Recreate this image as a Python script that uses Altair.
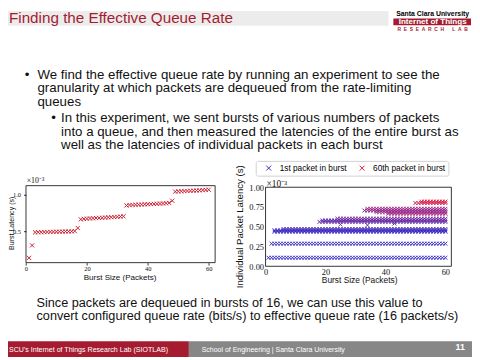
import altair as alt
import pandas as pd

# ---------------- values ----------------
# Left panel: latency of the whole burst (units of 1e-3 s) for burst sizes 1..60
burst_size = list(range(1, 61))
burst_latency = [
    0.140, 0.310,
    0.488, 0.490, 0.490, 0.492, 0.493, 0.494, 0.495, 0.496, 0.497, 0.498, 0.500, 0.500, 0.502, 0.505,
    0.548,
    0.665, 0.672, 0.675, 0.678, 0.680, 0.683, 0.685, 0.687, 0.690, 0.692, 0.695, 0.697, 0.700, 0.703, 0.707,
    0.855, 0.860, 0.862, 0.864, 0.866, 0.868, 0.870, 0.872, 0.874, 0.876, 0.878, 0.880, 0.882, 0.885, 0.889,
    0.920,
    1.044, 1.047, 1.049, 1.051, 1.053, 1.055, 1.057, 1.059, 1.061, 1.064, 1.067, 1.070,
]

# Right panel: individual packet latency (units of 1e-3 s), read as the horizontal
# bands of markers in the picture (first burst size where each band appears)
band_label = [
    "1st packet in burst", "2nd packet",
    "packets 3-17 low", "packets 3-17 mid", "packets 3-17 high",
    "packets 18-33 low", "packets 18-33 mid", "packets 18-33 high",
    "packets 34-49 low", "packets 34-49 mid", "packets 34-49 high", "packets 34-49 top",
    "packets 50-59", "60th packet in burst",
]
band_latency = [0.108, 0.286, 0.438, 0.455, 0.472, 0.562, 0.580, 0.602, 0.665, 0.685, 0.705, 0.728, 0.800, 0.818]
band_first_burst = [1, 2, 3, 3, 6, 18, 19, 24, 41, 37, 33, 34, 50, 52]
band_color = ["#3a2fc2", "#3d30c0", "#3527c8", "#3f2cc0", "#4a2db8", "#6a2aa2", "#5c30b0", "#7a2a98",
              "#b0227a", "#98288a", "#8a2c92", "#a3247f", "#cc1f55", "#dc2040"]
outlier_burst = [25, 34, 43]
outlier_latency = [0.530, 0.520, 0.540]
outlier_color = "#5a3aa0"

# ---------------- slide text ----------------
title_text = "Finding the Effective Queue Rate"
bullet_lines = [
    "We find the effective queue rate by running an experiment to see the",
    "granularity at which packets are dequeued from the rate-limiting",
    "queues",
]
sub_lines = [
    "In this experiment, we sent bursts of various numbers of packets",
    "into a queue, and then measured the latencies of the entire burst as",
    "well as the latencies of individual packets in each burst",
]
closing_lines = [
    "Since packets are dequeued in bursts of 16, we can use this value to",
    "convert configured queue rate (bits/s) to effective queue rate (16 packets/s)",
]
footer_left = "SCU's Internet of Things Research Lab (SIOTLAB)"
footer_mid = "School of Engineering | Santa Clara University"
page_no = "11"
NB = "\u00a0"
logo_lines = ["Santa Clara University", "Internet of Things",
              (NB * 2).join("RESEARCH") + NB * 6 + (NB * 2).join("LAB")]

SCU_RED = "#a51c30"
XPATH = "M-1,-1L1,1M-1,1L1,-1"
dummy = pd.DataFrame({"k": [0]})


def txt(s, x, y, size=13.5, color="#111111", font="Liberation Sans", align="left",
        baseline="alphabetic", angle=0, weight="normal"):
    return alt.Chart(dummy).mark_text(
        text=s, align=align, baseline=baseline, font=font, fontSize=size,
        color=color, angle=angle, fontWeight=weight
    ).encode(x=alt.value(x), y=alt.value(y))


def box(x, x2, y, y2, color):
    return alt.Chart(dummy).mark_rect(color=color).encode(
        x=alt.value(x), x2=alt.value(x2), y=alt.value(y), y2=alt.value(y2))


axis_common = dict(title=None, domain=False, grid=False, tickWidth=0.8,
                   tickColor="#000000", labelFont="Liberation Serif", labelColor="#111111",
                   labelFlush=False, labelOverlap=False)

# ---------------- left panel ----------------
left_df = pd.DataFrame({"burst": burst_size, "lat": burst_latency})
lx_scale = alt.Scale(domain=[0, 62.1], range=[18.3, 210.7], nice=False, zero=False)
ly_scale = alt.Scale(domain=[0.075, 1.125], range=[256, 177.7], nice=False, zero=False)
lx_axis = alt.Axis(orient="bottom", offset=-96, values=[0, 20, 40, 60], format="d", labelFontSize=6.6,
                   ticks=True, tickSize=2.5, labelPadding=0.5, **axis_common)
ly_axis = alt.Axis(orient="left", offset=-18.3, values=[0.5, 1.0], format=".1f", labelFontSize=6.6,
                   ticks=True, tickSize=2.5, labelPadding=3, **axis_common)

left_pts = alt.Chart(left_df).mark_point(
    shape=XPATH, filled=False, strokeWidth=1, size=18, color="#c8202f", opacity=1
).encode(
    x=alt.X("burst:Q", scale=lx_scale, axis=lx_axis),
    y=alt.Y("lat:Q", scale=ly_scale, axis=ly_axis),
)
left_frame = alt.Chart(dummy).mark_rect(fillOpacity=0, stroke="#000000", strokeWidth=0.8).encode(
    x=alt.XDatum(0, scale=lx_scale, axis=lx_axis), x2=alt.X2Datum(62.1),
    y=alt.YDatum(0.075, scale=ly_scale, axis=ly_axis), y2=alt.Y2Datum(1.125),
)
left = alt.layer(left_pts, left_frame)

# ---------------- right panel ----------------
rows = []
for lab, lat, first in zip(band_label, band_latency, band_first_burst):
    for n in burst_size:
        if n >= first:
            rows.append({"burst": n, "lat": lat, "band": lab})
for n, lat in zip(outlier_burst, outlier_latency):
    rows.append({"burst": n, "lat": lat, "band": "outlier"})
right_df = pd.DataFrame(rows)

rx_scale = alt.Scale(domain=[0, 62], range=[262, 451], nice=False, zero=False)
ry_scale = alt.Scale(domain=[0, 1.0], range=[259.7, 179.3], nice=False, zero=False)
rx_axis = alt.Axis(orient="bottom", offset=-92.3, values=[0, 20, 40, 60], format="d", labelFontSize=8.5,
                   ticks=False, labelPadding=1, **axis_common)
ry_axis = alt.Axis(orient="left", offset=-262, values=[0, 0.25, 0.5, 0.75, 1.0], format=".2f",
                   labelFontSize=8.6, ticks=False, labelPadding=2, **axis_common)

right_pts = alt.Chart(right_df).mark_point(
    shape=XPATH, filled=False, strokeWidth=1, size=16, opacity=1
).encode(
    x=alt.X("burst:Q", scale=rx_scale, axis=rx_axis),
    y=alt.Y("lat:Q", scale=ry_scale, axis=ry_axis),
    color=alt.Color(
        "band:N",
        scale=alt.Scale(domain=band_label + ["outlier"], range=band_color + [outlier_color]),
        legend=alt.Legend(
            values=["1st packet in burst", "60th packet in burst"], title=None,
            orient="none", legendX=252, legendY=152.5, direction="horizontal",
            symbolType=XPATH, symbolSize=25, symbolStrokeWidth=1,
            labelFont="Liberation Sans", labelFontSize=8.4, labelColor="#000000",
            padding=3, symbolOffset=6, labelOffset=7, columnPadding=5,
            strokeColor="#d0d0d0", fillColor="#ffffff", cornerRadius=2,
        ),
    ),
    order=alt.Order("lat:Q"),
)
right_frame = alt.Chart(dummy).mark_rect(fillOpacity=0, stroke="#000000", strokeWidth=0.8).encode(
    x=alt.XDatum(0, scale=rx_scale, axis=rx_axis), x2=alt.X2Datum(62),
    y=alt.YDatum(0, scale=ry_scale, axis=ry_axis), y2=alt.Y2Datum(1.0),
)
right = alt.layer(right_pts, right_frame)

# ---------------- slide decoration and text ----------------
layers = [
    box(0, 387, 0, 15, "#ececec"),
    box(392, 471, 7.6, 14.6, SCU_RED),
    box(0, 184, 336, 352, SCU_RED),
    box(184, 472, 336, 352, "#878787"),
    txt(title_text, 1, 12, size=15.5, color=SCU_RED),
    txt(logo_lines[0], 432, 5.6, size=7.0, color="#000000", align="center", weight="bold"),
    txt(logo_lines[1], 432, 13.4, size=8.2, color="#ffffff", align="center", weight="bold"),
    txt(logo_lines[2], 432, 20.2, size=5.0, color=SCU_RED, align="center", weight="bold"),
    txt("\u2022", 17, 68.8),
    txt("\u2022", 44, 113),
    txt(footer_left, 1, 347, size=7.2, color="#ffffff"),
    txt(footer_mid, 197, 347, size=7.1, color="#ffffff"),
    txt(page_no, 460, 345, size=9, color="#ffffff", align="center", weight="bold"),
    txt("\u00d710\u207b\u00b3", 19, 173, size=8, font="Liberation Serif", baseline="middle"),
    txt("\u00d710\u207b\u00b3", 263, 176, size=9.5, font="Liberation Serif", baseline="middle"),
    txt("Burst Latency (s)", 0.5, 216, size=7.2, angle=270, align="center", baseline="top"),
    txt("Burst Size (Packets)", 114, 271.3, size=8.2, align="center", baseline="middle"),
    txt("Individual Packet Latency (s)", 236, 219.5, size=9.8, angle=270, align="center", baseline="middle"),
    txt("Burst Size (Packets)", 357.7, 274, size=8.5, align="center", baseline="middle"),
]
for i, s in enumerate(bullet_lines):
    layers.append(txt(s, 30, 68.8 + 13.8 * i))
for i, s in enumerate(sub_lines):
    layers.append(txt(s, 54, 113 + 13.8 * i))
for i, s in enumerate(closing_lines):
    layers.append(txt(s, 29, 301.5 + 13 * i, size=12.9))

chart = alt.layer(*layers[:4], left, right, *layers[4:]).resolve_scale(
    x="independent", y="independent"
).properties(
    width=472, height=352, autosize=alt.AutoSizeParams(type="none"), padding=0
).configure_view(stroke=None)

chart.save("out.html", embed_options={"renderer": "svg", "actions": False})
